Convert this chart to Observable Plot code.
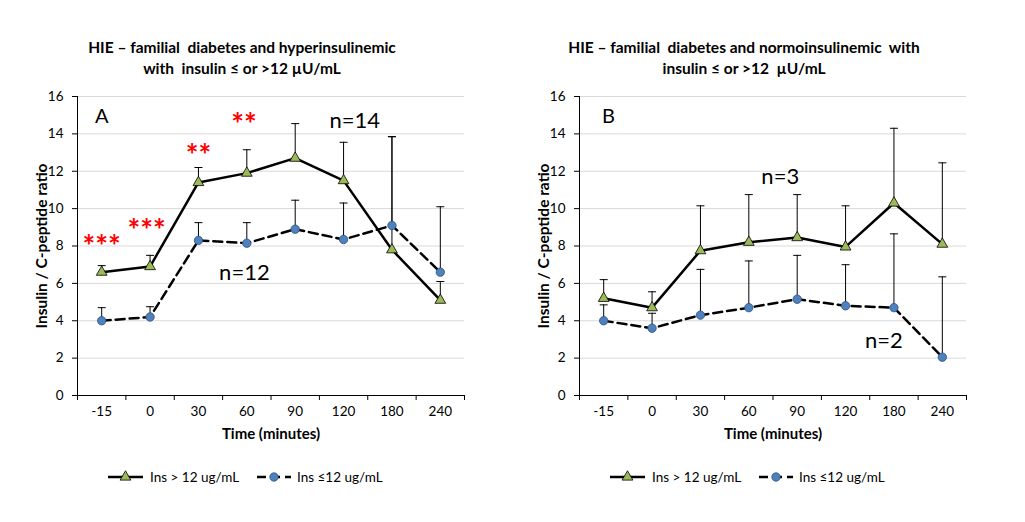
<!DOCTYPE html>
<html>
<head>
<meta charset="utf-8">
<script src="https://cdn.jsdelivr.net/npm/d3@7"></script>
<script src="https://cdn.jsdelivr.net/npm/@observablehq/plot@0.6"></script>
<style>
  html, body { margin: 0; padding: 0; background: #fff; }
  body { width: 1025px; height: 522px; position: relative; overflow: hidden; font-family: Lato, "Open Sans", sans-serif; }
  .panel { position: absolute; top: 0; width: 512px; height: 522px; }
  .title { position: absolute; top: 37px; left: 22px; width: 440px; text-align: center; font-weight: bold; font-size: 15.5px; line-height: 21px; white-space: pre; color: #000; }
  .chart { position: absolute; top: 80px; left: 0; }
  .legend { position: absolute; top: 466px; left: 0; }
</style>
</head>
<body>
<div class="panel" id="pA"></div>
<div class="panel" id="pB" style="left:502px"></div>
<script>
// ---------- data ----------
const times = ["-15", "0", "30", "60", "90", "120", "180", "240"];
const yTicks = [0, 2, 4, 6, 8, 10, 12, 14, 16];

// Panel A: familial diabetes and hyperinsulinemic
const aHighMean = [6.6, 6.9, 11.4, 11.9, 12.7, 11.5, 7.8, 5.1];
const aHighTop  = [6.95, 7.5, 12.2, 13.15, 14.55, 13.55, 13.85, 6.1];
const aLowMean  = [4.0, 4.2, 8.3, 8.15, 8.9, 8.35, 9.1, 6.6];
const aLowTop   = [4.7, 4.75, 9.25, 9.25, 10.45, 10.3, 13.85, 10.1];

// Panel B: familial diabetes and normoinsulinemic
const bHighMean = [5.2, 4.7, 7.75, 8.2, 8.45, 7.95, 10.3, 8.1];
const bHighTop  = [6.2, 5.55, 10.15, 10.75, 10.75, 10.15, 14.3, 12.45];
const bLowMean  = [4.0, 3.6, 4.3, 4.7, 5.15, 4.8, 4.7, 2.05];
const bLowTop   = [4.85, 4.4, 6.75, 7.2, 7.5, 7.0, 8.65, 6.35];

const titleA = "HIE \u2013 familial  diabetes and hyperinsulinemic\nwith  insulin \u2264 or >12 \u00b5U/mL";
const titleB = "HIE \u2013 familial  diabetes and normoinsulinemic  with\ninsulin \u2264 or >12  \u00b5U/mL";
const yLabel = "Insulin / C-peptide ratio";
const xLabel = "Time (minutes)";
const seriesNames = ["Ins > 12 ug/mL", "Ins \u226412 ug/mL"];

// annotations: text, category index, value
const aLetter = [{text: "A", i: 0, v: 14.9}];
const aN = [{text: "n=14", i: 5.23, v: 14.7}, {text: "n=12", i: 2.95, v: 6.55}];
const aStars = [
  {text: "***", i: 0.0, v: 8.38},
  {text: "***", i: 0.93, v: 9.22},
  {text: "**", i: 2.0, v: 13.2},
  {text: "**", i: 2.94, v: 14.9}
];
const bLetter = [{text: "B", i: 0.1, v: 14.9}];
const bN = [{text: "n=3", i: 3.65, v: 11.72}, {text: "n=2", i: 5.79, v: 2.94}];
const bStars = [];

// ---------- drawing ----------
const GREEN = "#9BBB59", BLUE = "#4F81BD";
const capSymbol = {draw(ctx, size) { const r = Math.sqrt(size / Math.PI); ctx.moveTo(-r, 0); ctx.lineTo(r, 0); }};

function build(el, cfg) {
  const t = document.createElement("div");
  t.className = "title"; t.textContent = cfg.title; el.appendChild(t);

  const high = times.map((d, i) => ({i, mean: cfg.highMean[i], top: cfg.highTop[i]}));
  const low = times.map((d, i) => ({i, mean: cfg.lowMean[i], top: cfg.lowTop[i]}));

  const chart = Plot.plot({
    width: 490, height: 365,
    marginLeft: 77, marginRight: 26, marginTop: 16, marginBottom: 50,
    style: {fontFamily: "Lato, 'Open Sans', sans-serif", fontSize: "12px", color: "#000", background: "transparent", overflow: "visible"},
    x: {type: "linear", domain: [-0.5, times.length - 0.5]},
    y: {domain: [0, 16]},
    marks: [
      Plot.gridY(yTicks.filter(d => d > 0), {stroke: "#d9d9d9", strokeOpacity: 1, strokeWidth: 1}),
      Plot.axisY(yTicks, {tickSize: 5, tickPadding: 9, label: null, fontSize: 13.5, stroke: "#000"}),
      Plot.axisX(d3.range(times.length), {tickSize: 0, tickPadding: 11, tickFormat: i => times[i], label: null, fontSize: 13.5}),
      Plot.axisX(d3.range(times.length + 1).map(i => i - 0.5), {tickSize: 5, tickFormat: () => "", label: null, stroke: "#000"}),
      Plot.ruleX([-0.5], {stroke: "#000", strokeWidth: 1}),
      Plot.ruleY([0], {stroke: "#000", strokeWidth: 1}),
      Plot.text([yLabel], {frameAnchor: "left", textAnchor: "middle", dx: -35, rotate: -90, fontWeight: "bold", fontSize: 15.5, fill: "#000"}),
      Plot.text([xLabel], {frameAnchor: "bottom", dy: 43, fontWeight: "bold", fontSize: 15, fill: "#000"}),
      // error bars
      Plot.ruleX(high, {x: "i", y1: "mean", y2: "top", stroke: "#000", strokeWidth: 1}),
      Plot.dot(high, {x: "i", y: "top", symbol: capSymbol, r: 4, stroke: "#000", strokeWidth: 1}),
      Plot.ruleX(low, {x: "i", y1: "mean", y2: "top", stroke: "#000", strokeWidth: 1}),
      Plot.dot(low, {x: "i", y: "top", symbol: capSymbol, r: 4, stroke: "#000", strokeWidth: 1}),
      // lines
      Plot.line(low, {x: "i", y: "mean", stroke: "#000", strokeWidth: 2.5, strokeDasharray: "9,5"}),
      Plot.line(high, {x: "i", y: "mean", stroke: "#000", strokeWidth: 2.5}),
      // markers
      Plot.dot(low, {x: "i", y: "mean", r: 4.2, fill: BLUE, stroke: "#2c5182", strokeWidth: 0.8}),
      Plot.dot(high, {x: "i", y: "mean", symbol: "triangle", r: 4, fill: GREEN, stroke: "#000", strokeWidth: 0.8}),
      // annotations
      Plot.text(cfg.letter, {x: "i", y: "v", text: "text", fontSize: 20, fill: "#000"}),
      Plot.text(cfg.n, {x: "i", y: "v", text: "text", fontSize: 22, fill: "#000"}),
      Plot.text(cfg.stars, {x: "i", y: "v", text: "text", fontSize: 30, fontWeight: "bold", fill: "#ff0000", dy: 8})
    ]
  });
  chart.classList.add("chart");
  el.appendChild(chart);

  // legend
  const svg = d3.select(el).append("svg").attr("class", "legend").attr("width", 512).attr("height", 22);
  const cy = 11;
  const g1 = svg.append("g");
  g1.append("line").attr("x1", 108).attr("x2", 143).attr("y1", cy).attr("y2", cy).attr("stroke", "#000").attr("stroke-width", 2.5);
  g1.append("path").attr("d", d3.symbol(d3.symbolTriangle, 4 * 4 * Math.PI)()).attr("transform", `translate(125.5,${cy})`).attr("fill", GREEN).attr("stroke", "#000").attr("stroke-width", 0.8);
  g1.append("text").attr("x", 150).attr("y", cy).attr("dy", "0.35em").attr("font-size", 13.5).attr("font-family", "Lato, sans-serif").text(seriesNames[0]);
  const g2 = svg.append("g");
  g2.append("line").attr("x1", 257).attr("x2", 291).attr("y1", cy).attr("y2", cy).attr("stroke", "#000").attr("stroke-width", 2.5).attr("stroke-dasharray", "9,5");
  g2.append("circle").attr("cx", 274).attr("cy", cy).attr("r", 4.2).attr("fill", BLUE).attr("stroke", "#2c5182").attr("stroke-width", 0.8);
  g2.append("text").attr("x", 297).attr("y", cy).attr("dy", "0.35em").attr("font-size", 13.5).attr("font-family", "Lato, sans-serif").text(seriesNames[1]);
}

build(document.getElementById("pA"), {title: titleA, highMean: aHighMean, highTop: aHighTop, lowMean: aLowMean, lowTop: aLowTop, letter: aLetter, n: aN, stars: aStars});
build(document.getElementById("pB"), {title: titleB, highMean: bHighMean, highTop: bHighTop, lowMean: bLowMean, lowTop: bLowTop, letter: bLetter, n: bN, stars: bStars});
</script>
</body>
</html>
